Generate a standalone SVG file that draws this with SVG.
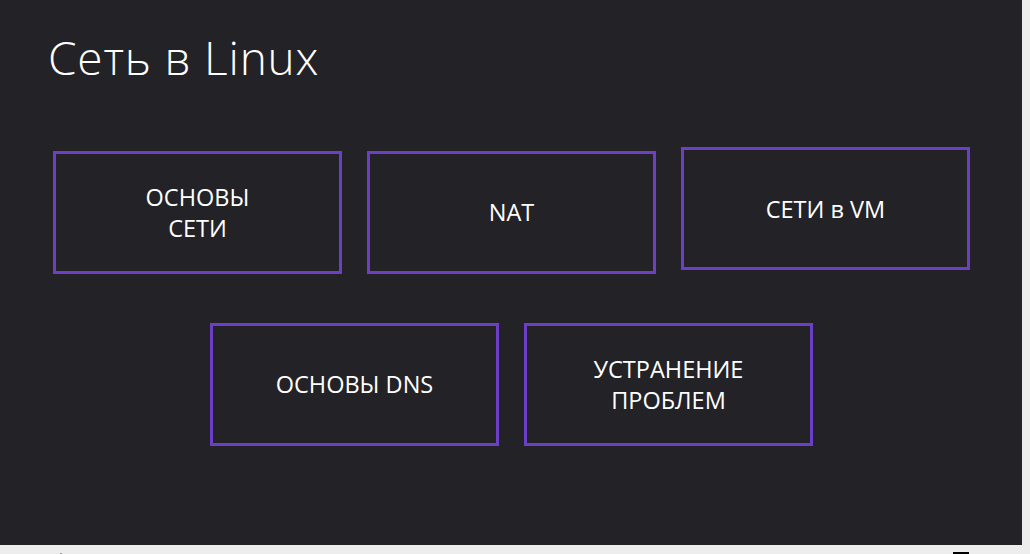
<svg xmlns="http://www.w3.org/2000/svg" width="1030" height="554" viewBox="0 0 1030 554">
<style>
.bg{fill:#232227}
.box{fill:none;stroke:#6b3fc6;stroke-width:3}
.lbl{font-family:"Open Sans","Noto Sans","DejaVu Sans",sans-serif;font-size:23.5px;fill:#ffffff;text-anchor:middle}
.title{font-family:"Open Sans","Lato","Noto Sans",sans-serif;font-weight:300;font-size:46px;letter-spacing:0.8px;fill:#ffffff}
</style>
<rect x="0" y="0" width="1030" height="554" fill="#ededed"/>
<rect class="bg" x="0" y="0" width="1022" height="545"/>
<rect x="953" y="552" width="16" height="2" fill="#000000"/>
<rect x="60" y="553" width="2" height="1" fill="#999999"/>
<text class="title" x="48" y="75">Сеть в Linux</text>
<g id="connectors"></g>
<g id="node-osnovy-seti">
<rect class="box" x="54.5" y="152.5" width="286" height="120"/>
<text class="lbl" x="197.5" y="206">ОСНОВЫ</text>
<text class="lbl" x="197.5" y="237">СЕТИ</text>
</g>
<g id="node-nat">
<rect class="box" x="368.5" y="152.5" width="286" height="120"/>
<text class="lbl" x="511.5" y="221">NAT</text>
</g>
<g id="node-seti-vm">
<rect class="box" x="682.5" y="148.5" width="286" height="120"/>
<text class="lbl" x="825.5" y="218">СЕТИ в VM</text>
</g>
<g id="node-osnovy-dns">
<rect class="box" x="211.5" y="324.5" width="286" height="120"/>
<text class="lbl" x="354.5" y="393">ОСНОВЫ DNS</text>
</g>
<g id="node-ustranenie">
<rect class="box" x="525.5" y="324.5" width="286" height="120"/>
<text class="lbl" x="668.5" y="378">УСТРАНЕНИЕ</text>
<text class="lbl" x="668.5" y="409">ПРОБЛЕМ</text>
</g>
</svg>
